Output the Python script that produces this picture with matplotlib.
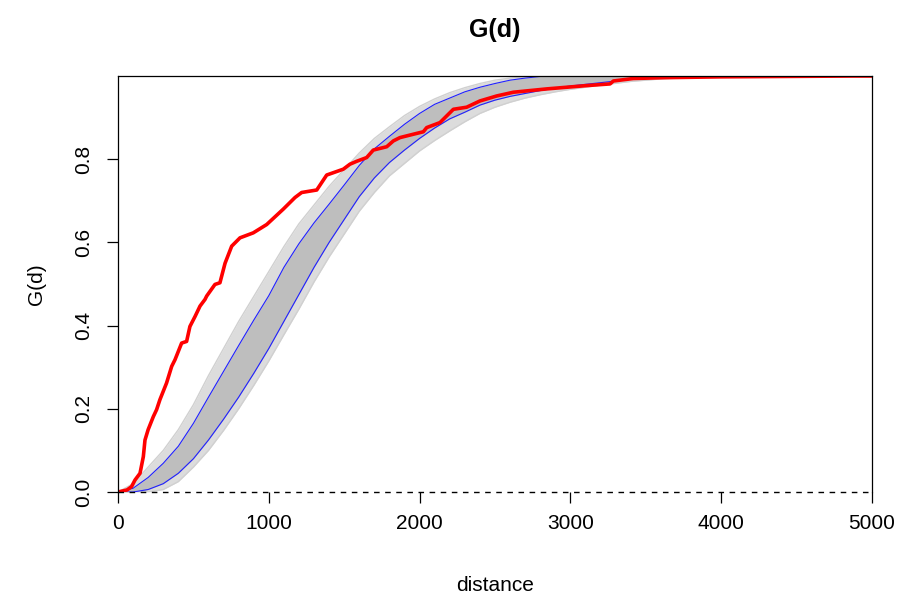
import matplotlib
matplotlib.use("Agg")
import matplotlib.pyplot as plt

plt.rcParams['font.family'] = ['Liberation Sans', 'DejaVu Sans']

# distance grid for the envelope curves
dist = [0, 100, 200, 300, 400, 500, 600, 700, 800, 900, 1000, 1100, 1200, 1300,
        1400, 1500, 1600, 1700, 1800, 1900, 2000, 2100, 2200, 2300, 2400, 2500,
        2600, 2700, 2800, 2900, 3000, 3200, 3400, 3600, 3800, 4000, 5000]

# blue envelope lines
env_hi = [0, 0.009, 0.035, 0.069, 0.11, 0.165, 0.228, 0.29, 0.352, 0.413, 0.472,
          0.54, 0.597, 0.647, 0.692, 0.738, 0.785, 0.825, 0.855, 0.884, 0.91,
          0.932, 0.947, 0.962, 0.973, 0.982, 0.99, 0.995, 0.999, 1.0, 1.0, 1.0,
          1.0, 1.0, 1.0, 1.0, 1.0]
env_lo = [0, 0.0, 0.006, 0.02, 0.045, 0.08, 0.125, 0.175, 0.228, 0.285, 0.345,
          0.41, 0.475, 0.54, 0.6, 0.655, 0.71, 0.755, 0.792, 0.822, 0.85, 0.875,
          0.897, 0.913, 0.93, 0.942, 0.951, 0.958, 0.965, 0.971, 0.976, 0.984,
          0.992, 0.997, 0.999, 1.0, 1.0]

# spread of the simulated curves (light grey)
sim_max = [0, 0.02, 0.06, 0.1, 0.15, 0.21, 0.28, 0.345, 0.41, 0.47, 0.53, 0.59,
           0.645, 0.69, 0.735, 0.775, 0.815, 0.85, 0.878, 0.905, 0.927, 0.945,
           0.96, 0.972, 0.982, 0.99, 0.995, 0.998, 1.0, 1.0, 1.0, 1.0, 1.0, 1.0,
           1.0, 1.0, 1.0]
sim_min = [0, 0.0, 0.0, 0.006, 0.025, 0.06, 0.1, 0.148, 0.2, 0.256, 0.315,
           0.378, 0.44, 0.505, 0.565, 0.62, 0.675, 0.72, 0.76, 0.79, 0.82, 0.845,
           0.868, 0.89, 0.91, 0.925, 0.937, 0.947, 0.955, 0.962, 0.968, 0.978,
           0.987, 0.993, 0.997, 1.0, 1.0]

# observed G(d)
obs_d = [0, 60, 90, 113, 146, 168, 179, 200, 234, 256, 278, 322, 356, 378, 422,
         455, 477, 511, 544, 577, 588, 643, 676, 710, 754, 809, 897, 986, 1096,
         1174, 1218, 1318, 1384, 1494, 1538, 1583, 1649, 1693, 1782, 1826, 1870,
         1958, 2025, 2047, 2135, 2224, 2312, 2400, 2511, 2622, 2732, 2843, 2976,
         3108, 3263, 3285, 3417, 3616, 4000, 4870, 5000]
obs_g = [0, 0.005, 0.013, 0.029, 0.045, 0.085, 0.125, 0.15, 0.181, 0.198, 0.222,
         0.262, 0.302, 0.318, 0.358, 0.362, 0.398, 0.422, 0.447, 0.463, 0.471,
         0.499, 0.503, 0.55, 0.591, 0.611, 0.623, 0.643, 0.68, 0.708, 0.72, 0.726,
         0.762, 0.776, 0.788, 0.795, 0.804, 0.822, 0.83, 0.844, 0.852, 0.86,
         0.866, 0.876, 0.888, 0.92, 0.925, 0.94, 0.952, 0.961, 0.965, 0.969,
         0.973, 0.977, 0.981, 0.988, 0.994, 0.996, 0.998, 1.0, 1.0]

x_ticks = [0, 1000, 2000, 3000, 4000, 5000]
y_ticks = [0.0, 0.2, 0.4, 0.6, 0.8]

fig = plt.figure(figsize=(9.24, 5.99), dpi=100)
ax = fig.add_axes([0.1277, 0.1786, 0.8160, 0.6945])

ax.fill_between(dist, sim_min, sim_max, color="#dcdcdc", lw=0)
ax.plot(dist, sim_max, color="#d0d0d0", lw=1)
ax.plot(dist, sim_min, color="#d0d0d0", lw=1)
ax.fill_between(dist, env_lo, env_hi, color="#bebebe", lw=0)
ax.plot(dist, env_hi, color="#2020ff", lw=0.8)
ax.plot(dist, env_lo, color="#2020ff", lw=0.8)
ax.plot(obs_d, obs_g, color="#ff0000", lw=2.6)
ax.axhline(0, color="black", lw=1, linestyle=(0, (4, 4)), clip_on=False)

ax.set_xlim(0, 5000)
ax.set_ylim(0, 1)
ax.spines['bottom'].set_visible(False)
for s in ['left', 'right', 'top']:
    ax.spines[s].set_linewidth(0.9)

ax.set_xticks(x_ticks)
ax.set_xticklabels([str(v) for v in x_ticks])
ax.set_yticks(y_ticks)
ax.set_yticklabels([f"{v:.1f}" for v in y_ticks], rotation=90, va="center")
ax.tick_params(axis="both", length=8, width=0.9, labelsize=15, direction="out")
ax.tick_params(axis="x", pad=8)
ax.tick_params(axis="y", pad=10)

ax.set_xlabel("distance", fontsize=15, labelpad=31)
ax.set_ylabel("G(d)", fontsize=15, labelpad=20)
ax.set_title("G(d)", fontsize=18, fontweight="bold", pad=28)

fig.savefig("out.png", dpi=100)
